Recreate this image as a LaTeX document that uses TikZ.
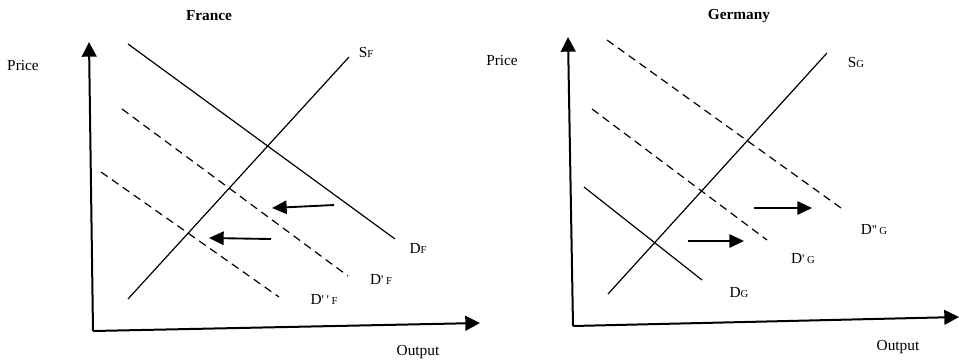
\documentclass[tikz,border=0pt]{standalone}
\usepackage{fontspec}
\setmainfont{Liberation Serif}
\usetikzlibrary{arrows.meta,positioning}
\newcommand{\subtag}[1]{{\fontsize{8}{9}\selectfont #1}}
\newcommand{\primetick}{{\fontsize{10}{11}\selectfont\textquotesingle}}

\begin{document}
\begin{tikzpicture}[
    x=0.75pt, y=-0.75pt,
    font=\fontsize{11.5}{13}\selectfont,
    axisline/.style={-{Triangle[length=11pt, width=11pt]}, line width=1.5pt},
    curveline/.style={line width=0.9pt},
    shiftline/.style={curveline, dash pattern=on 6pt off 4pt},
    shiftarrow/.style={-{Triangle[length=11pt, width=10pt]}, line width=1.4pt},
    curvelabel/.style={inner sep=0pt}
  ]
    \useasboundingbox (0,0) rectangle (959,361);

    % France
    \node[font=\fontsize{11.5}{13}\selectfont\bfseries] (franceTitle) at (209,16) {France};
    \node[curvelabel] (francePrice) at (23,65) {Price};
    \node[curvelabel] (franceOutput) at (418,352) {Output};
    \coordinate (fOrigin) at (93,331);
    \coordinate (fYtop) at (89,42);
    \coordinate (fXend) at (480,323);
    \draw[axisline] (fOrigin) -- (fYtop);
    \draw[axisline] (fOrigin) -- (fXend);
    \coordinate (sFlow) at (128,299);
    \coordinate (sFhigh) at (349,57);
    \coordinate (dFtop) at (128,44);
    \coordinate (dFend) at (395,239);
    \coordinate (dFonetop) at (122,109);
    \coordinate (dFoneend) at (348,276);
    \coordinate (dFtwotop) at (101,172);
    \coordinate (dFtwoend) at (279,297);
    \draw[curveline] (sFlow) -- (sFhigh);
    \draw[curveline] (dFtop) -- (dFend);
    \draw[shiftline] (dFonetop) -- (dFoneend);
    \draw[shiftline] (dFtwotop) -- (dFtwoend);
    \node[curvelabel] (sFlabel) at (366,52) {S\subtag{F}};
    \node[curvelabel] (dFlabel) at (418,248) {D\subtag{F}};
    \node[curvelabel] (dFonelabel) at (381,279) {D\primetick\,\subtag{F}};
    \node[curvelabel] (dFtwolabel) at (324,299) {D\primetick\,\primetick\,\subtag{F}};
    \coordinate (fShiftAfrom) at (334,205);
    \coordinate (fShiftAto) at (272,208);
    \coordinate (fShiftBfrom) at (271,239);
    \coordinate (fShiftBto) at (209,238);
    \draw[shiftarrow] (fShiftAfrom) -- (fShiftAto);
    \draw[shiftarrow] (fShiftBfrom) -- (fShiftBto);

    % Germany
    \node[font=\fontsize{11.5}{13}\selectfont\bfseries] (germanyTitle) at (739,16) {Germany};
    \node[curvelabel] (germanyPrice) at (502,60) {Price};
    \node[curvelabel] (germanyOutput) at (898,347) {Output};
    \coordinate (gOrigin) at (573,326);
    \coordinate (gYtop) at (568,37);
    \coordinate (gXend) at (959,317);
    \draw[axisline] (gOrigin) -- (gYtop);
    \draw[axisline] (gOrigin) -- (gXend);
    \coordinate (sGlow) at (608,294);
    \coordinate (sGhigh) at (827,53);
    \coordinate (dGtop) at (584,187);
    \coordinate (dGend) at (702,280);
    \coordinate (dGonetop) at (592,109);
    \coordinate (dGoneend) at (767,240);
    \coordinate (dGtwotop) at (607,40);
    \coordinate (dGtwoend) at (841,208);
    \draw[curveline] (sGlow) -- (sGhigh);
    \draw[curveline] (dGtop) -- (dGend);
    \draw[shiftline] (dGonetop) -- (dGoneend);
    \draw[shiftline] (dGtwotop) -- (dGtwoend);
    \node[curvelabel] (sGlabel) at (856,62) {S\subtag{G}};
    \node[curvelabel] (dGlabel) at (739,293) {D\subtag{G}};
    \node[curvelabel] (dGonelabel) at (803,259) {D\primetick\,\subtag{G}};
    \node[curvelabel] (dGtwolabel) at (874,230) {D\primetick\primetick\,\subtag{G}};
    \coordinate (gShiftAfrom) at (688,241);
    \coordinate (gShiftAto) at (744,241);
    \coordinate (gShiftBfrom) at (754,208);
    \coordinate (gShiftBto) at (812,208);
    \draw[shiftarrow] (gShiftAfrom) -- (gShiftAto);
    \draw[shiftarrow] (gShiftBfrom) -- (gShiftBto);
  \end{tikzpicture}
\end{document}
